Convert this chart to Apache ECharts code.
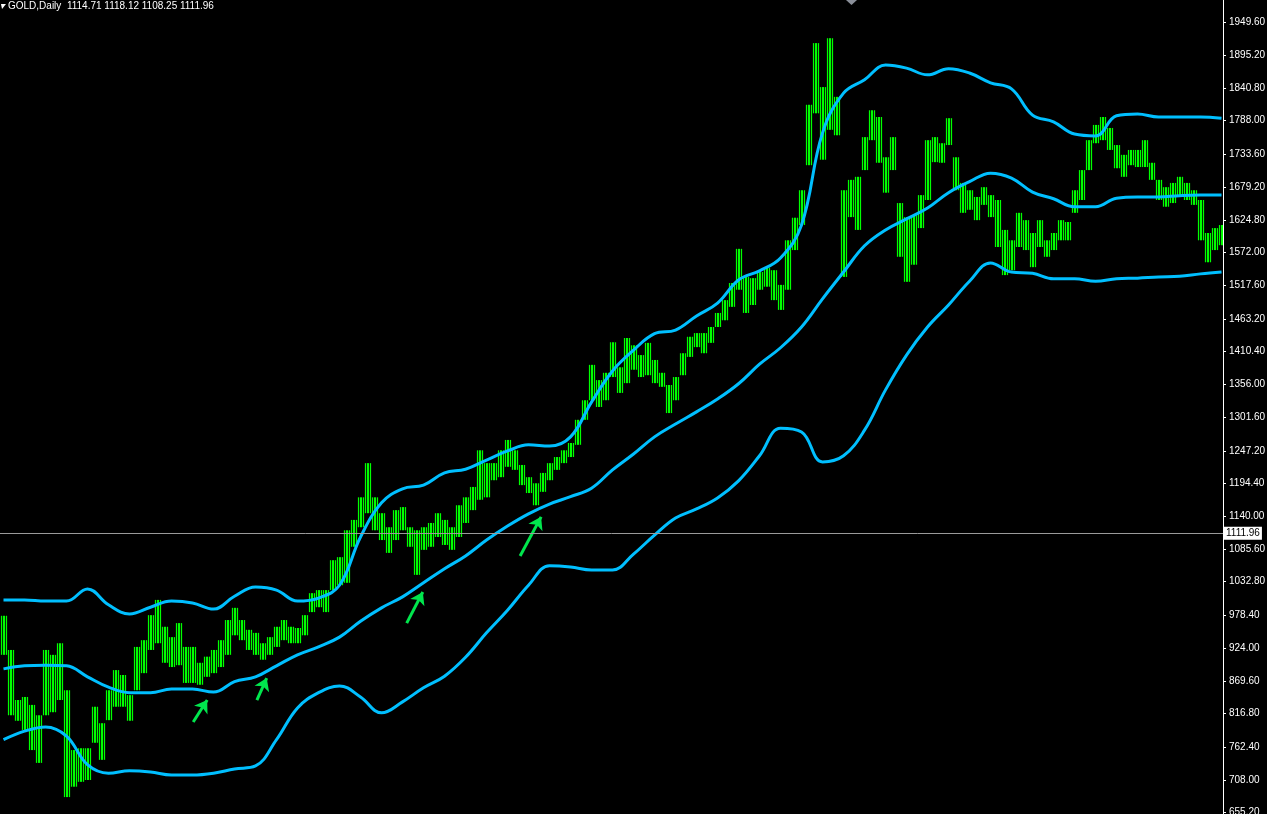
<!DOCTYPE html>
<html>
<head>
<meta charset="utf-8">
<title>GOLD,Daily</title>
<script src="https://cdn.jsdelivr.net/npm/echarts@6/dist/echarts.min.js"></script>
<style>
  html, body { margin: 0; padding: 0; background: #000; }
  #chart { width: 1267px; height: 814px; }
</style>
</head>
<body>
<div id="chart"></div>
<script>
// weekly-ish columns of daily bars: high / low of each column
const highs = [977, 921, 839, 844, 831, 814, 921, 913, 932, 855,
  757, 760, 760, 828, 801, 855, 888, 880, 847, 926,
  937, 978, 1003, 959, 942, 965, 926, 926, 900, 910,
  921, 937, 970, 990, 970, 954, 949, 932, 942, 959,
  970, 959, 957, 978, 1014, 1019, 1019, 1068, 1073, 1117,
  1134, 1171, 1227, 1171, 1145, 1122, 1150, 1155, 1122, 1117,
  1122, 1129, 1145, 1134, 1122, 1158, 1171, 1188, 1248, 1227,
  1227, 1248, 1265, 1248, 1224, 1204, 1194, 1211, 1227, 1237,
  1248, 1260, 1298, 1330, 1388, 1363, 1375, 1425, 1384, 1432,
  1420, 1404, 1424, 1396, 1375, 1355, 1368, 1407, 1434, 1440,
  1440, 1450, 1473, 1494, 1522, 1578, 1532, 1530, 1540, 1547,
  1543, 1519, 1592, 1629, 1674, 1814, 1915, 1843, 1923, 1827,
  1674, 1691, 1696, 1761, 1805, 1794, 1728, 1761, 1653, 1630,
  1633, 1666, 1756, 1761, 1751, 1792, 1728, 1686, 1674, 1663,
  1679, 1666, 1658, 1609, 1592, 1637, 1625, 1604, 1625, 1592,
  1604, 1625, 1622, 1674, 1707, 1756, 1781, 1794, 1776, 1748,
  1732, 1740, 1740, 1756, 1719, 1691, 1679, 1686, 1696, 1686,
  1674, 1658, 1604, 1612, 1617];
const lows = [913, 814, 805, 790, 757, 736, 814, 819, 839, 680,
  697, 705, 708, 769, 741, 806, 828, 828, 805, 855,
  883, 921, 932, 900, 893, 896, 867, 867, 864, 877,
  883, 893, 913, 945, 937, 921, 913, 905, 913, 926,
  937, 932, 932, 945, 983, 991, 983, 1019, 1027, 1031,
  1090, 1122, 1145, 1117, 1101, 1080, 1101, 1117, 1090, 1044,
  1085, 1090, 1106, 1093, 1085, 1106, 1129, 1150, 1167, 1171,
  1199, 1204, 1221, 1216, 1191, 1178, 1158, 1180, 1199, 1216,
  1227, 1237, 1257, 1298, 1330, 1319, 1330, 1368, 1342, 1358,
  1380, 1368, 1371, 1358, 1352, 1309, 1330, 1371, 1401, 1417,
  1407, 1424, 1450, 1461, 1483, 1511, 1473, 1486, 1511, 1516,
  1494, 1478, 1511, 1576, 1617, 1715, 1800, 1724, 1773, 1764,
  1532, 1630, 1609, 1707, 1756, 1719, 1670, 1707, 1565, 1524,
  1552, 1612, 1658, 1720, 1719, 1748, 1674, 1637, 1642, 1625,
  1650, 1630, 1581, 1535, 1543, 1581, 1576, 1548, 1581, 1565,
  1576, 1592, 1592, 1637, 1658, 1707, 1751, 1756, 1740, 1710,
  1696, 1715, 1712, 1712, 1691, 1658, 1647, 1653, 1663, 1658,
  1650, 1592, 1556, 1576, 1584];

// envelope bands, sampled every 3 columns
const upperBand = [1003, 1003, 1001, 1001, 1021, 995, 980, 991, 1001, 998,
  988, 1009, 1024, 1019, 1001, 1006, 1027, 1106, 1162, 1185,
  1191, 1211, 1217, 1232, 1247, 1257, 1255, 1270, 1327, 1378,
  1412, 1439, 1445, 1468, 1489, 1527, 1542, 1563, 1617, 1768,
  1833, 1855, 1879, 1874, 1863, 1873, 1866, 1850, 1840, 1797,
  1786, 1766, 1763, 1796, 1799, 1794, 1794, 1794, 1792];
const middleBand = [890, 895, 896, 895, 877, 860, 851, 851, 857, 857,
  852, 869, 877, 895, 913, 926, 942, 968, 990, 1008,
  1031, 1054, 1075, 1101, 1124, 1144, 1160, 1172, 1186, 1216,
  1242, 1270, 1291, 1311, 1332, 1357, 1389, 1416, 1450, 1496,
  1540, 1583, 1609, 1627, 1645, 1670, 1688, 1702, 1694, 1671,
  1660, 1647, 1647, 1661, 1663, 1663, 1665, 1666, 1666];
const lowerBand = [774, 788, 795, 780, 733, 719, 723, 721, 716, 716,
  719, 726, 731, 774, 826, 851, 862, 844, 818, 836,
  859, 878, 909, 949, 986, 1027, 1059, 1057, 1052, 1052,
  1078, 1109, 1137, 1152, 1170, 1198, 1239, 1284, 1278, 1229,
  1239, 1281, 1347, 1404, 1450, 1486, 1525, 1555, 1540, 1538,
  1529, 1529, 1525, 1529, 1530, 1532, 1533, 1537, 1540];

const priceTicks = [655.2, 708.0, 762.4, 816.8, 869.6, 924.0, 978.4, 1032.8, 1085.6, 1140.0,
  1194.4, 1247.2, 1301.6, 1356.0, 1410.4, 1463.2, 1517.6, 1572.0, 1624.8, 1679.2,
  1733.6, 1788.0, 1840.8, 1895.2, 1949.6];
const bidPrice = 1111.96;
const header = 'GOLD,Daily  1114.71 1118.12 1108.25 1111.96';

// hand drawn arrows: [fromColumn, fromPrice, toColumn, toPrice]
const arrows = [
  [27.1, 803, 29.1, 839],
  [36.2, 839, 37.6, 875],
  [57.6, 965, 59.9, 1016],
  [73.8, 1075, 76.8, 1139]
];

const bandDays = upperBand.map((_, k) => k * 3);
const bars = highs.map((h, i) => [i, lows[i], h]);
const bandData = arr => arr.map((v, k) => [bandDays[k], v]);

const chart = echarts.init(document.getElementById('chart'), null, { renderer: 'canvas' });
const font = "'Liberation Sans', Arial, sans-serif";
const bandColor = '#00bfff';

const bandSeries = (name, arr) => ({
  name: name,
  type: 'line',
  data: bandData(arr),
  smooth: 0.4,
  showSymbol: false,
  lineStyle: { color: bandColor, width: 3 },
  z: 3
});

const upper = bandSeries('upper', upperBand);
upper.markLine = {
  silent: true,
  animation: false,
  symbol: ['none', 'arrow'],
  symbolSize: 12,
  label: { show: false },
  lineStyle: { color: '#00e64d', width: 3, type: 'solid' },
  data: arrows.map(a => [{ coord: [a[0], a[1]] }, { coord: [a[2], a[3]] }])
};

const middle = bandSeries('middle', middleBand);
middle.markLine = {
  silent: true,
  animation: false,
  symbol: 'none',
  lineStyle: { color: '#9a9a9a', width: 1, type: 'solid' },
  label: {
    position: 'end',
    distance: 1,
    formatter: bidPrice.toFixed(2),
    color: '#000',
    backgroundColor: '#fff',
    padding: [2, 2, 1, 2],
    fontFamily: font,
    fontSize: 10
  },
  data: [{ yAxis: bidPrice }]
};

const option = {
  backgroundColor: '#000',
  animation: false,
  grid: { left: 0, right: 44, top: 0, bottom: 0, containLabel: false, outerBoundsMode: 'none' },
  xAxis: {
    type: 'value',
    min: -0.5,
    max: 174.21,
    show: false
  },
  yAxis: {
    type: 'value',
    position: 'right',
    min: 652.3,
    max: 1985.6,
    axisLine: { show: true, onZero: false, lineStyle: { color: '#fff', width: 1 } },
    axisTick: { show: true, length: 3, lineStyle: { color: '#fff' }, customValues: priceTicks },
    axisLabel: {
      color: '#fff',
      fontFamily: font,
      fontSize: 10,
      margin: 6,
      customValues: priceTicks,
      formatter: v => v.toFixed(2)
    },
    splitLine: { show: false }
  },
  series: [
    {
      name: 'GOLD',
      type: 'custom',
      clip: true,
      z: 2,
      data: bars,
      // each column is drawn as thin daily-style strokes spanning its high-low range
      renderItem: (params, api) => {
        const x = api.value(0);
        const lo = api.coord([x, api.value(1)]);
        const hi = api.coord([x, api.value(2)]);
        const w = api.size([1, 0])[0];
        const strokes = [];
        for (let k = 0; k < 4; k++) {
          const px = Math.round(lo[0] - w / 2 + 0.9 + k * 1.75) + 0.5;
          strokes.push({
            type: 'line',
            shape: { x1: px, y1: hi[1], x2: px, y2: Math.max(lo[1], hi[1] + 1) },
            style: { stroke: '#00ff00', lineWidth: 1.2 }
          });
        }
        return { type: 'group', children: strokes };
      }
    },
    upper,
    middle,
    bandSeries('lower', lowerBand)
  ],
  graphic: [
    {
      type: 'polygon',
      shape: { points: [[1, 4], [6, 4], [2, 9]] },
      style: { fill: '#fff' }
    },
    {
      type: 'text',
      left: 8,
      top: 1,
      style: { text: header, fill: '#fff', font: '10px ' + font }
    },
    {
      type: 'polygon',
      shape: { points: [[846, 0], [857, 0], [851.5, 5]] },
      style: { fill: '#8a8f99' }
    }
  ]
};

chart.setOption(option);
window.addEventListener('resize', () => chart.resize());
</script>
</body>
</html>
